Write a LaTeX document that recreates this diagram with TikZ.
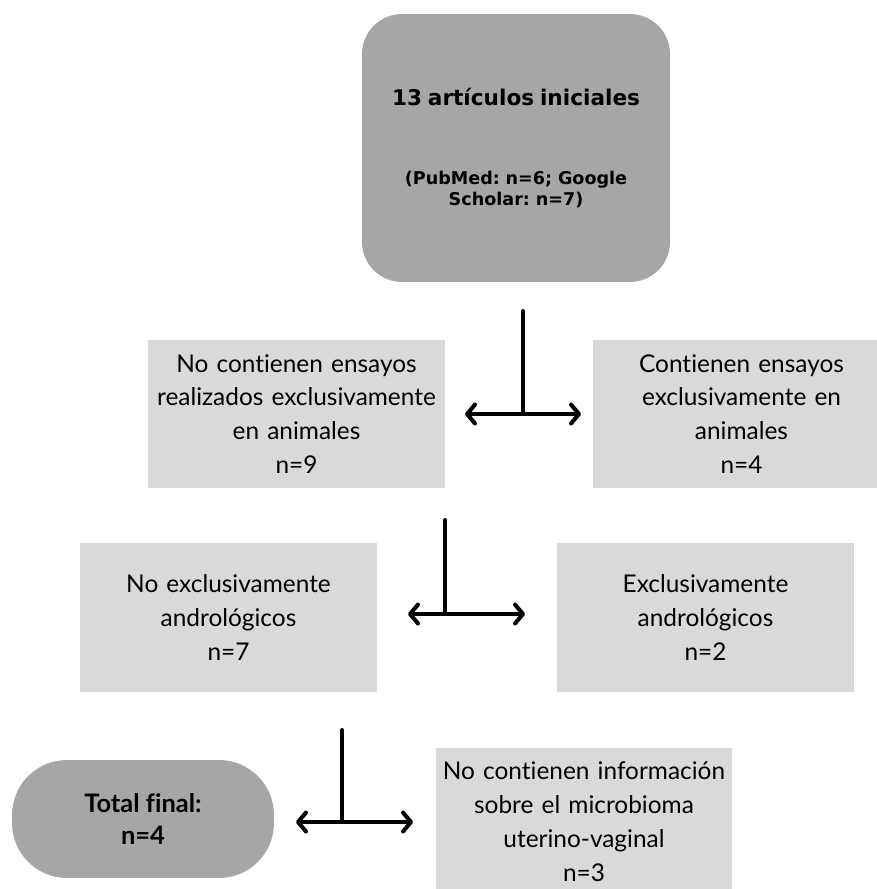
\documentclass[tikz,border=0pt]{standalone}
\usepackage{fontspec}
\usepackage{tikz}
\usepackage{xcolor}
\usetikzlibrary{arrows.meta}
\setmainfont{Lato}[Ligatures={NoCommon,NoContextual}, Contextuals=NoAlternate]
\newfontfamily\headfont{DejaVu Sans}
\definecolor{grisoscuro}{HTML}{A6A6A6}
\definecolor{grisclaro}{HTML}{D9D9D9}
\frenchspacing

\begin{document}
\begin{tikzpicture}[x=0.02cm, y=-0.02cm,
  caja/.style={fill=grisclaro, minimum width=5.94cm, minimum height=2.98cm, align=center,
    text width=5.9cm, font=\fontsize{13.9}{19.3}\selectfont, inner sep=0pt},
  inicio/.style={fill=grisoscuro, rounded corners=0.8cm, minimum width=6.16cm, minimum height=5.36cm,
    align=center, text width=5.9cm, inner sep=0pt},
  final/.style={fill=grisoscuro, rounded corners=1.1cm, minimum width=5.24cm, minimum height=2.36cm,
    align=center, font=\bfseries\fontsize{14.5}{18.7}\selectfont, inner sep=0pt},
  linea/.style={line width=2.3pt, line cap=round},
  flecha/.style={line width=2.3pt, {Straight Barb[round,length=1.6mm,width=3.8mm]}-{Straight Barb[round,length=1.6mm,width=3.8mm]}}]
\useasboundingbox (0,0) rectangle (876,889);

\node[inicio] (inicial) at (516,148) {{\headfont\bfseries\fontsize{12.3}{14.2}\selectfont 13 artículos iniciales}\\[31pt]
  {\headfont\bfseries\fontsize{10}{14.2}\selectfont (PubMed: n=6; Google\\ Scholar: n=7)}};

\node[caja] (noanimales) at (296.5,414) {No contienen ensayos\\ realizados exclusivamente\\ en animales\\ n=9};
\node[caja] (animales) at (741.5,414) {Contienen ensayos\\ exclusivamente en\\ animales\\ n=4};

\node[caja] (noandro) at (228.5,617.5) {No exclusivamente\\ andrológicos\\ n=7};
\node[caja] (andro) at (705.5,617.5) {Exclusivamente\\ andrológicos\\ n=2};

\node[final] (total) at (143,819) {Total final:\\ n=4};
\node[caja] (nomicro) at (584,822) {No contienen información\\ sobre el microbioma\\ uterino-vaginal\\ n=3};

\coordinate (t1) at (523,311);
\coordinate (j1) at (523,414);
\coordinate (l1) at (465,414);
\coordinate (r1) at (581,414);
\draw[linea] (t1) -- (j1);
\draw[flecha] (l1) -- (r1);

\coordinate (t2) at (445,520);
\coordinate (j2) at (445,614);
\coordinate (l2) at (408,614);
\coordinate (r2) at (525,614);
\draw[linea] (t2) -- (j2);
\draw[flecha] (l2) -- (r2);

\coordinate (t3) at (342,730);
\coordinate (j3) at (342,822);
\coordinate (l3) at (296,822);
\coordinate (r3) at (413,822);
\draw[linea] (t3) -- (j3);
\draw[flecha] (l3) -- (r3);
\end{tikzpicture}
\end{document}
